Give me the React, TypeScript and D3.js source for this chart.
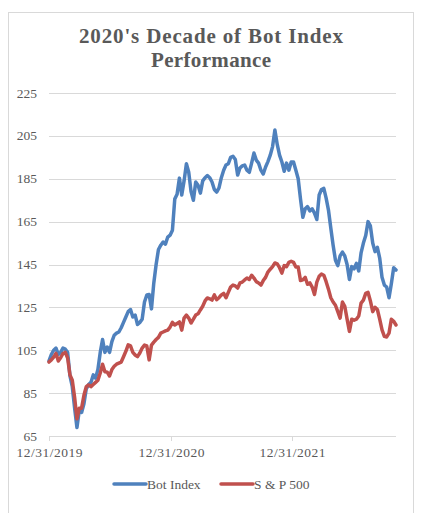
import React from "react";
import * as d3 from "d3";

const START_DATE = "2019-12-31";
const yTicks = [65, 85, 105, 125, 145, 165, 185, 205, 225];
const xTickDates = ["2019-12-31", "2020-12-31", "2021-12-31"];
const xTickLabels = ["12/31/2019", "12/31/2020", "12/31/2021"];
const seriesNames = ["Bot Index", "S & P 500"];
const seriesColors = ["#4f81bd", "#c0504d"];
const titleLines = ["2020's Decade of Bot Index", "Performance"];

// weekly closes, indexed to 100 at 12/31/2019
const botIndex = [
  100, 103, 105, 106, 103, 104, 106, 105.5, 104, 93,
  88, 78, 69, 77, 76, 80, 87, 89, 90, 93.5,
  92, 96, 104, 110, 104, 106.5, 104, 109, 112, 113,
  113.5, 115.5, 118, 120.5, 123, 124, 120.5, 121.4, 117, 118,
  119.5, 127.5, 130.8, 131, 124.3, 136.4, 145, 152, 154, 155.5,
  154.5, 157.8, 158.7, 161, 175.5, 177.8, 185.3, 177.4, 184, 192,
  188, 179, 175, 183.5, 182, 178.3, 184, 185.5, 186.5, 185.5,
  183.5, 180, 178.8, 180.7, 185.5, 189, 191.4, 192, 195, 195.5,
  194, 186.7, 190, 191, 191.4, 189, 188, 192.3, 197, 193.7,
  192.3, 189, 187.2, 190.5, 193, 196, 200, 207.7, 201, 196,
  192.8, 188.5, 192.3, 189, 192.8, 192.8, 189, 185, 175.5, 167,
  171, 172, 170, 171, 169, 166, 177.4, 180, 180.5, 176,
  170.4, 162, 154, 147, 144.5, 149, 150.8, 149, 145, 138,
  144, 143, 145.5, 142, 150.4, 155, 158.5, 165, 163, 155,
  151, 153, 148, 139, 135.4, 134.5, 129.5, 136, 143.5, 142.4,
];
const sp500 = [
  99.5, 100.5, 101.8, 103.5, 100, 101.5, 103.5, 104, 101.4, 93.5,
  91, 83, 73, 78, 78, 84, 88, 88.8, 88, 89,
  90, 91, 94.4, 98.5, 95, 94.8, 93, 96, 97.5, 98.5,
  99, 99.5, 102, 104.5, 107.5, 107, 104, 102.8, 102, 103.7,
  106, 107.4, 107, 100.5, 107.4, 108.8, 110, 111, 113, 113.5,
  114, 114.4, 115.8, 118, 116.8, 117.5, 118.2, 114.4, 120, 121.4,
  120, 117.7, 119.5, 121.4, 122, 123.8, 125.5, 128, 129.4, 129,
  128.4, 130.8, 128.6, 129.5, 130.8, 131.5, 129.5, 132, 134.5, 135.4,
  135, 134, 136.4, 136.8, 137.8, 138.7, 138, 140, 138.7, 137,
  136.4, 135.4, 137.5, 139, 141.5, 142.8, 144, 145.7, 145.3, 143.5,
  141, 144.5, 144, 146, 146.5, 146, 143.8, 143.8, 137.5, 137.8,
  139, 135.8, 136.4, 134.5, 131, 136.8, 139.5, 140.5, 140, 137,
  133.5, 129.5, 127.5, 126, 123, 120, 127.5, 125.5, 119.5, 113.8,
  119.5, 119, 119.5, 121, 127, 128.4, 131.5, 132, 128, 123,
  125, 124, 119.5, 114.5, 111.5, 111.2, 113, 119.5, 118.5, 116.8,
];

const W = 422;
const H = 513;
const FONT = "'Liberation Serif', 'Times New Roman', serif";
const TEXT = "#595959";
const GRID = "#d9d9d9";

export default function App() {
  const parse = d3.utcParse("%Y-%m-%d");
  const start = parse(START_DATE)!;
  const dates = botIndex.map((_, i) => d3.utcDay.offset(start, i * 7));
  const x = d3
    .scaleUtc()
    .domain([start, dates[dates.length - 1]])
    .range([49, 396]);
  const y = d3.scaleLinear().domain([65, 225]).range([436, 93]);

  const line = d3
    .line<number>()
    .x((_, i) => x(dates[i]))
    .y((d) => y(d))
    .curve(d3.curveLinear);

  const series = [botIndex, sp500];
  const titleLens = [264, 120];

  return (
    <svg
      width={W}
      height={H}
      style={{ position: "absolute", left: 0, top: 0, background: "#fff" }}
    >
      <rect x={8.5} y={12.5} width={405} height={510} fill="#fff" stroke={GRID} />
      {titleLines.map((t, i) => (
        <text
          key={t}
          x={211}
          y={43 + i * 24}
          textAnchor="middle"
          fontFamily={FONT}
          fontWeight="bold"
          fontSize={21}
          fill={TEXT}
          textLength={titleLens[i]}
          lengthAdjust="spacing"
        >
          {t}
        </text>
      ))}
      {yTicks.map((t) => (
        <g key={t}>
          {t !== 65 && (
            <line x1={49} x2={396} y1={Math.round(y(t)) + 0.5} y2={Math.round(y(t)) + 0.5} stroke={GRID} />
          )}
          <text
            x={37}
            y={y(t) + 4.5}
            textAnchor="end"
            fontFamily={FONT}
            fontSize={13.5}
            fill={TEXT}
          >
            {t}
          </text>
        </g>
      ))}
      <line x1={49} x2={396} y1={436.5} y2={436.5} stroke={GRID} />
      {xTickDates.map((d, i) => {
        const xp = Math.round(x(parse(d)!)) + 0.5;
        return (
          <g key={d}>
            <line x1={xp} x2={xp} y1={436} y2={441} stroke={GRID} />
            <text
              x={xp}
              y={457}
              textAnchor="middle"
              fontFamily={FONT}
              fontSize={13.5}
              fill={TEXT}
              textLength={66}
              lengthAdjust="spacing"
            >
              {xTickLabels[i]}
            </text>
          </g>
        );
      })}
      {series.map((s, k) => (
        <path
          key={k}
          d={line(s) || ""}
          fill="none"
          stroke={seriesColors[k]}
          strokeWidth={3.5}
          strokeLinejoin="round"
          strokeLinecap="round"
        />
      ))}
      {seriesNames.map((n, k) => {
        const lx = k === 0 ? 114 : 221;
        return (
          <g key={n}>
            <line
              x1={lx}
              x2={lx + 32}
              y1={484}
              y2={484}
              stroke={seriesColors[k]}
              strokeWidth={3.5}
              strokeLinecap="round"
            />
            <text x={lx + 33} y={488.5} fontFamily={FONT} fontSize={13.5} fill={TEXT}>
              {n}
            </text>
          </g>
        );
      })}
    </svg>
  );
}
